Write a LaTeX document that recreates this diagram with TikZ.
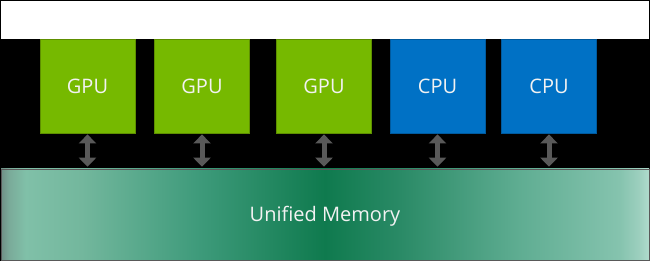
\documentclass[tikz,border=0pt]{standalone}
\usepackage{fontspec}
\setmainfont{Open Sans}
\usetikzlibrary{arrows.meta}
\definecolor{nvgreen}{HTML}{76B900}
\definecolor{nvgreenline}{HTML}{5E8F00}
\definecolor{cpublue}{HTML}{0071C5}
\definecolor{cpublueline}{HTML}{005A9E}
\definecolor{arrowgray}{HTML}{595959}
\definecolor{txtwhite}{HTML}{F2F2F2}
\definecolor{mA}{HTML}{6F8F86}
\definecolor{mB}{HTML}{7AAA99}
\definecolor{mC}{HTML}{80C0A8}
\definecolor{mD}{HTML}{73B79D}
\definecolor{mE}{HTML}{3D9A7A}
\definecolor{mF}{HTML}{0F7A4E}
\definecolor{mG}{HTML}{2A8A66}
\definecolor{mH}{HTML}{5FAD92}
\definecolor{mI}{HTML}{85C3AE}
\definecolor{mJ}{HTML}{9CCFBE}
\definecolor{mK}{HTML}{B0DCCD}
\pgfdeclarehorizontalshading{memshade}{100bp}{color(0bp)=(mA); color(25bp)=(mA); color(25.6bp)=(mB); color(26.9bp)=(mC); color(31.2bp)=(mD); color(40.4bp)=(mE); color(50bp)=(mF); color(55.8bp)=(mG); color(65bp)=(mH); color(72.7bp)=(mI); color(74.2bp)=(mJ); color(75bp)=(mK); color(100bp)=(mK)}
\tikzset{
  unit/.style={minimum width=95pt, minimum height=94pt, inner sep=0pt, text=txtwhite, font=\fontsize{20}{23}\selectfont, line width=0.8pt},
  gpubox/.style={unit, fill=nvgreen, draw=nvgreenline},
  cpubox/.style={unit, fill=cpublue, draw=cpublueline},
  link/.style={draw=arrowgray, line width=5pt, {Triangle[width=17pt,length=9pt]}-{Triangle[width=17pt,length=9pt]}, shorten <=1pt, shorten >=2pt}
}
\begin{document}
\begin{tikzpicture}[x=1pt,y=1pt]
\useasboundingbox (0,0) rectangle (650,261);
\fill[black] (0,0) rectangle (650,261);
\fill[white] (1,260) rectangle (649,222);
\node[gpubox] (g1) at (87.5,175) {GPU};
\node[gpubox] (g2) at (202,175) {GPU};
\node[gpubox] (g3) at (324,175) {GPU};
\node[cpubox] (c1) at (437.5,175) {CPU};
\node[cpubox] (c2) at (549,175) {CPU};
\node[minimum width=648pt, minimum height=91pt, inner sep=0pt, shading=memshade, draw=arrowgray, line width=0.6pt] (mem) at (325,46.5) {};
\node[text=txtwhite, font=\fontsize{20}{23}\selectfont, inner sep=0pt] (memlabel) at ([yshift=-2pt]mem.center) {Unified Memory};
\foreach \n in {g1,g2,g3,c1,c2}{
  \draw[link] (\n.south) -- (\n.south |- mem.north);
}
\end{tikzpicture}
\end{document}
